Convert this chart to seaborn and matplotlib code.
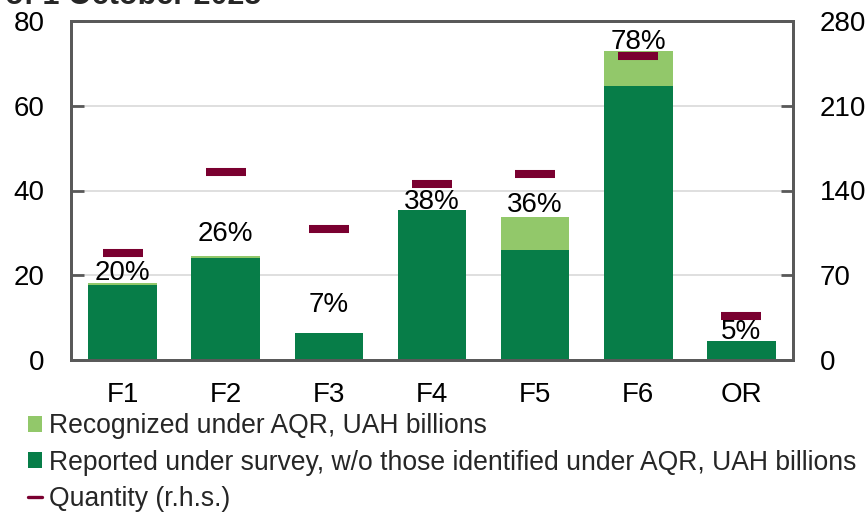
import matplotlib
matplotlib.use("Agg")
import matplotlib.pyplot as plt
import seaborn as sns
import pandas as pd
from matplotlib.patches import Patch
from matplotlib.lines import Line2D

categories = ["F1", "F2", "F3", "F4", "F5", "F6", "OR"]
reported = [17.7, 24.0, 6.3, 35.3, 25.9, 64.7, 4.5]
recognized = [0.5, 0.5, 0.0, 0.0, 7.8, 8.2, 0.0]
quantity = [88, 155, 108, 145, 154, 251, 36]
pct_labels = ["20%", "26%", "7%", "38%", "36%", "78%", "5%"]
pct_label_y = [20.5, 29.7, 13.0, 37.3, 36.6, 75.1, 6.7]

DARK = "#077d48"
LIGHT = "#92c86a"
QCOL = "#7a0030"
SPINE = "#595959"
GRID = "#d9d9d9"
FS = 20

sns.set_theme(style="white")
plt.rcParams["font.family"] = ["Liberation Sans", "DejaVu Sans"]

df = pd.DataFrame({
    "cat": categories,
    "reported": reported,
    "total": [a + b for a, b in zip(reported, recognized)],
    "quantity": quantity,
})

fig = plt.figure(figsize=(8.68, 5.12), dpi=100)
ax = fig.add_axes([71 / 868, 1 - 360 / 512, (793 - 71) / 868, (360 - 21) / 512])

sns.barplot(data=df, x="cat", y="total", color=LIGHT, width=0.665, saturation=1,
            linewidth=0, ax=ax)
sns.barplot(data=df, x="cat", y="reported", color=DARK, width=0.665, saturation=1,
            linewidth=0, ax=ax)

ax.set_ylim(0, 80)
ax.set_xlim(-0.5, len(categories) - 0.5)
ax.set_yticks([0, 20, 40, 60, 80])
ax.yaxis.grid(True, color=GRID, linewidth=1.2)
ax.set_axisbelow(True)
ax.set_xlabel("")
ax.set_ylabel("")

ax2 = ax.twinx()
ax2.set_ylim(0, 280)
ax2.set_yticks([0, 70, 140, 210, 280])
ax2.plot(range(len(categories)), df["quantity"], ls="none", marker="_",
         ms=29, mew=5.8, color=QCOL, zorder=5)

for i, (lab, yy) in enumerate(zip(pct_labels, pct_label_y)):
    ax.text(i, yy, lab, ha="center", va="center", fontsize=FS, color="black", zorder=6)

for a in (ax, ax2):
    for s in a.spines.values():
        s.set_color(SPINE)
        s.set_linewidth(2)

ax.tick_params(axis="y", direction="in", length=9, width=2, color=SPINE,
               labelsize=FS, pad=19, labelcolor="black")
ax.tick_params(axis="x", length=0, labelsize=FS, pad=16, labelcolor="black")
ax.set_xticks([i + 0.5 for i in range(len(categories) - 1)], minor=True)
ax.tick_params(axis="x", which="minor", direction="in", length=8, width=2, color=SPINE)
ax2.tick_params(axis="y", direction="in", length=9, width=2, color=SPINE,
                labelsize=FS, pad=19, labelcolor="black")
ax2.set_ylabel("")

handles = [
    Patch(facecolor=LIGHT, edgecolor="none"),
    Patch(facecolor=DARK, edgecolor="none"),
    Line2D([0], [0], color=QCOL, lw=2.4),
]
labels = [
    "Recognized under AQR, UAH billions",
    "Reported under survey, w/o those identified under AQR, UAH billions",
    "Quantity (r.h.s.)",
]
fig.legend(handles, labels, loc="upper left", bbox_to_anchor=(27.5 / 868, 1 - 413 / 512),
           frameon=False, fontsize=19.1, handlelength=0.56, handleheight=0.56,
           handletextpad=0.25, labelspacing=0.4, borderpad=0, borderaxespad=0)

fig.text(5 / 868, 1 - 4 / 512, "of 1 October 2025", fontsize=22, fontweight="bold",
         ha="left", va="baseline")

fig.savefig("out.png", dpi=100)
